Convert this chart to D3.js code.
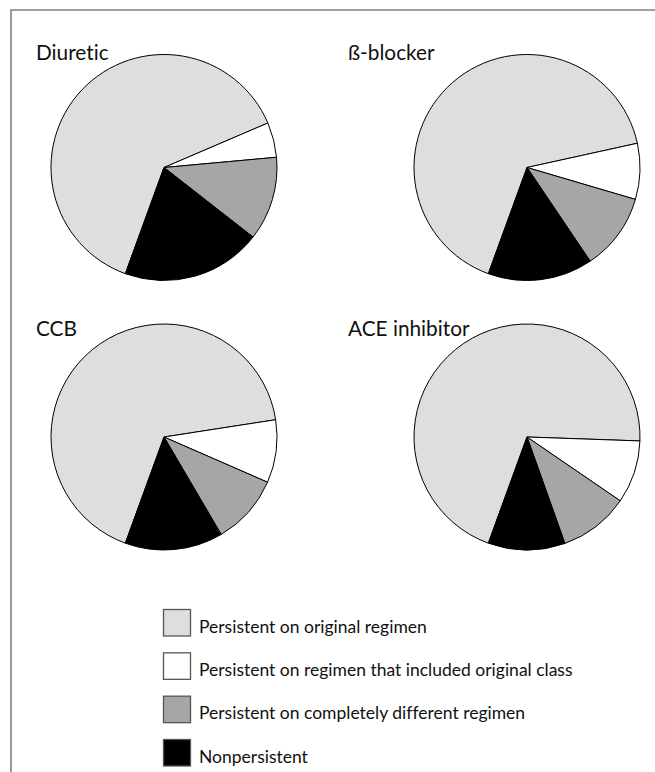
<!DOCTYPE html>
<html>
<head>
<meta charset="utf-8">
<script src="https://cdn.jsdelivr.net/npm/d3@7"></script>
<style>
  html, body { margin: 0; padding: 0; background: #fff; }
  svg { display: block; }
  text { font-family: Lato, "Open Sans", sans-serif; fill: #111; font-variant-ligatures: none; font-feature-settings: "liga" 0, "clig" 0; }
</style>
</head>
<body>
<svg id="chart" width="655" height="772"></svg>
<script>
// ---- data ----
const drugClasses = ["Diuretic", "ß-blocker", "CCB", "ACE inhibitor"];
const categories = [
  "Persistent on original regimen",
  "Persistent on regimen that included original class",
  "Persistent on completely different regimen",
  "Nonpersistent"
];
const diureticValues = [63, 5, 12, 20];
const betaBlockerValues = [66, 8, 11, 15];
const ccbValues = [67, 9, 10, 14];
const aceInhibitorValues = [70, 9, 10, 11];
const seriesValues = [diureticValues, betaBlockerValues, ccbValues, aceInhibitorValues];

// ---- styles ----
const colors = ["#dedede", "#ffffff", "#a6a6a6", "#000000"];

const W = 655, H = 772;
const svg = d3.select("#chart");

// frame
svg.append("path")
  .attr("d", `M11,${H + 5} L11,10 L${W + 5},10`)
  .attr("fill", "none")
  .attr("stroke", "#808080")
  .attr("stroke-width", 1.6);

// pie grid layout
const colX = d3.scalePoint().domain([0, 1]).range([164, 527]);
const rowY = d3.scalePoint().domain([0, 1]).range([167.5, 437]);
const radius = 113;

const color = d3.scaleOrdinal().domain(categories).range(colors);

const pie = d3.pie()
  .sort(null)
  .value(d => d.value)
  .startAngle(200 * Math.PI / 180)
  .endAngle(560 * Math.PI / 180);

const arc = d3.arc().innerRadius(0).outerRadius(radius);

drugClasses.forEach((name, i) => {
  const cx = colX(i % 2), cy = rowY(Math.floor(i / 2));
  const g = svg.append("g").attr("transform", `translate(${cx},${cy})`);
  const data = categories.map((c, j) => ({ cat: c, value: seriesValues[i][j] }));
  g.selectAll("path")
    .data(pie(data))
    .join("path")
    .attr("d", arc)
    .attr("fill", d => color(d.data.cat))
    .attr("stroke", "#000")
    .attr("stroke-width", 1)
    .attr("stroke-linejoin", "round");
  svg.append("text")
    .attr("x", i % 2 === 0 ? 36 : 348)
    .attr("y", i < 2 ? 60 : 336)
    .attr("font-size", 20.8)
    .text(name);
});

// legend
const legY = d3.scalePoint().domain(categories).range([609.5, 739.5]);
const leg = svg.append("g");
categories.forEach(c => {
  const y = legY(c);
  leg.append("rect")
    .attr("x", 163.5).attr("y", y)
    .attr("width", 27).attr("height", 26.5)
    .attr("fill", color(c))
    .attr("stroke", "#555")
    .attr("stroke-width", 1.3);
  leg.append("text")
    .attr("x", 199)
    .attr("y", y + 23)
    .attr("font-size", 17.5)
    .text(c);
});
</script>
</body>
</html>
